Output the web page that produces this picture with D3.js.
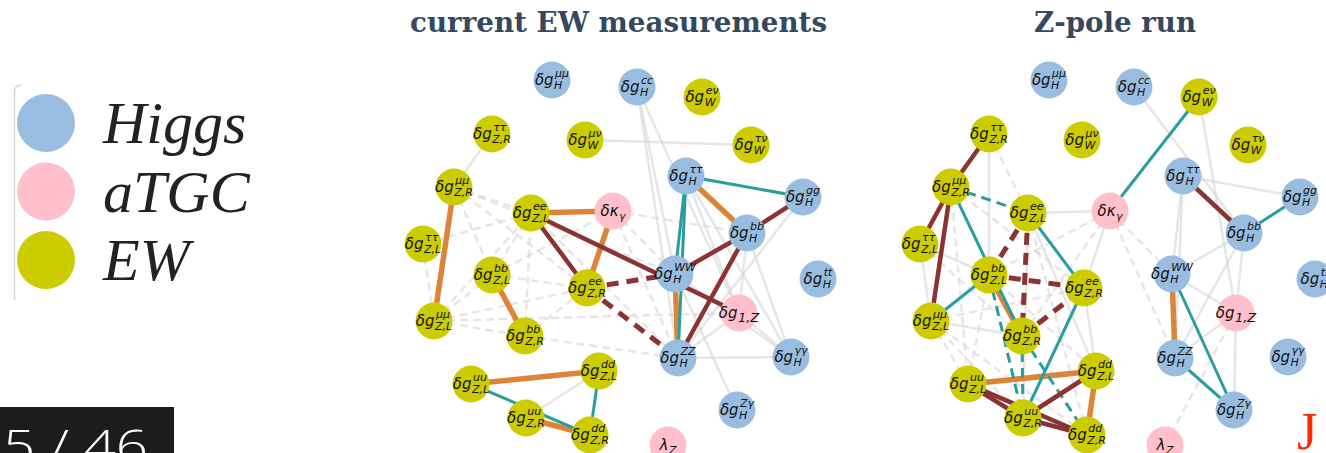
<!DOCTYPE html>
<html>
<head>
<meta charset="utf-8">
<script src="https://cdn.jsdelivr.net/npm/d3@7"></script>
<style>
  body { margin: 0; background: #fff; }
  svg { display: block; }
</style>
</head>
<body>
<svg id="chart"></svg>
<script>
const width = 1326, height = 453;

// ---- data: nodes (layout coords are relative to a panel, in px) ----
const nodeIds   = ["Hmm","Hcc","Wev","ZRtt","Wmv","Wtv","Htt","ZRmm","Hgg","ZLee","kg","Hbb","ZLtt","ZLbb",
                   "ZRee","HWW","Htop","ZLmm","g1z","ZRbb","HZZ","Hyy","ZLdd","ZLuu","ZRuu","ZRdd","HZy","lz"];
const nodeGroup = ["H","H","E","E","E","E","H","E","H","E","A","H","E","E",
                   "E","H","H","E","A","E","H","H","E","E","E","E","H","A"];
const nodeBase  = ["δg","δg","δg","δg","δg","δg","δg","δg","δg","δg","δκ","δg","δg","δg",
                   "δg","δg","δg","δg","δg","δg","δg","δg","δg","δg","δg","δg","δg","λ"];
const nodeSup   = ["μμ","cc","eν","ττ","μν","τν","ττ","μμ","gg","ee","","bb","ττ","bb",
                   "ee","WW","tt","μμ","","bb","ZZ","γγ","dd","uu","uu","dd","Zγ",""];
const nodeSub   = ["H","H","W","Z,R","W","W","H","Z,R","H","Z,L","γ","H","Z,L","Z,L",
                   "Z,R","H","H","Z,L","1,Z","Z,R","H","H","Z,L","Z,L","Z,R","Z,R","H","Z"];
const nodeX     = [152,237,302,92,185,351,286,54,403,131,213,347,23,92,
                   187,275,418,34,339,125,278,391,199,71,126,190,337,268];
const nodeY     = [80,87,97,134,140,145,176,187,197,213,211,233,244,275,
                   288,274,279,321,313,336,358,357,371,384,418,435,410,445];

// ---- data: correlation edges [source, target, kind] ----
const edgesEW = [
  ["Wmv","Wtv","g"],["ZRtt","ZRmm","g"],["Hcc","HWW","g"],["Hcc","HZZ","g"],["Hcc","g1z","g"],
  ["Htt","g1z","g"],["Htt","Hyy","g"],["Hgg","HZZ","g"],["Hbb","Hyy","g"],["Hbb","g1z","g"],
  ["HWW","HZy","g"],["HWW","Hyy","g"],["HZZ","Hyy","g"],["HZZ","g1z","g"],["g1z","Hyy","g"],
  ["ZRuu","ZLdd","g"],
  ["ZLtt","ZLmm","gd"],["ZRmm","ZLee","gd"],["ZRmm","ZRee","gd"],["ZRmm","ZLbb","gd"],["ZRmm","HWW","gd"],
  ["ZLmm","ZLee","gd"],["ZLmm","ZRee","gd"],["ZLmm","g1z","gd"],["ZLmm","ZLbb","gd"],["ZLmm","ZRbb","gd"],
  ["ZLbb","ZRee","gd"],["ZLbb","ZLee","gd"],["ZLbb","kg","gd"],["ZRbb","ZLee","gd"],["ZRbb","ZRee","gd"],
  ["ZRbb","HZZ","gd"],["ZLee","HZZ","gd"],["kg","HWW","gd"],["kg","Hbb","gd"],["kg","HZZ","gd"],["ZLtt","ZLee","gd"],
  ["ZLee","kg","o"],["kg","ZRee","o"],["ZRmm","ZLmm","o"],["ZLbb","ZRbb","o"],["ZLuu","ZLdd","o"],
  ["ZRuu","ZRdd","o"],["HWW","HZZ","o"],["Htt","Hbb","o"],
  ["ZLuu","ZRdd","t"],["ZLdd","ZRdd","t"],["Htt","HWW","t"],["Htt","HZZ","t"],["Htt","Hgg","t"],
  ["Hgg","Hbb","r"],["Hbb","HWW","r"],["Hbb","HZZ","r"],["ZLee","ZRee","r"],["ZLee","g1z","r"],
  ["ZRee","HWW","rd"],["ZRee","HZZ","rd"]
];
const edgesZ = [
  ["ZRtt","ZLbb","g"],["kg","ZLee","g"],["kg","ZRee","g"],["ZLtt","ZLmm","g"],["ZLmm","ZRbb","g"],
  ["ZLtt","ZLbb","g"],["ZRee","ZLdd","g"],["ZLee","ZRuu","g"],["ZLee","ZLdd","g"],
  ["Hcc","Hbb","g"],["Wev","g1z","g"],["Htt","Hgg","g"],["Htt","HWW","g"],["Htt","HZZ","g"],
  ["Hbb","HWW","g"],["Hbb","HZZ","g"],["Hbb","g1z","g"],["HWW","g1z","g"],["HZZ","g1z","g"],["g1z","HZy","g"],
  ["g1z","lz","gd"],["kg","HZZ","gd"],["kg","HWW","gd"],["kg","ZRbb","gd"],["kg","ZLbb","gd"],
  ["ZRtt","ZLee","gd"],["ZRmm","ZRee","gd"],["ZLmm","ZRee","gd"],["ZLmm","ZLuu","gd"],["ZLmm","ZRuu","gd"],
  ["ZLmm","ZRdd","gd"],["ZLtt","ZRbb","gd"],["ZLuu","ZLbb","gd"],["ZRmm","ZLuu","gd"],["ZLee","ZRdd","gd"],
  ["ZLbb","ZLdd","gd"],
  ["ZLbb","ZRbb","o"],["ZLuu","ZLdd","o"],["ZLdd","ZRdd","o"],["HWW","HZZ","o"],
  ["ZRmm","ZRbb","t"],["ZLmm","ZLbb","t"],["ZLee","ZRee","t"],["ZRee","ZRuu","t"],
  ["Wev","kg","t"],["Hbb","Hgg","t"],["HWW","HZy","t"],["HZZ","HZy","t"],
  ["ZRmm","ZLee","td"],["ZLbb","ZRuu","td"],["ZRbb","ZRuu","td"],["ZRbb","ZRdd","td"],
  ["ZRtt","ZRmm","r"],["ZRmm","ZLtt","r"],["ZRmm","ZLmm","r"],["ZLuu","ZRuu","r"],["ZLuu","ZRdd","r"],
  ["ZRuu","ZRdd","r"],["ZRuu","ZLdd","r"],["Htt","Hbb","r"],
  ["ZLee","ZLbb","rd"],["ZLee","ZRbb","rd"],["ZLbb","ZRee","rd"],["ZRbb","ZRee","rd"]
];

const panelTitles = ["current EW measurements", "Z-pole run"];
const legendLabels = ["Higgs", "aTGC", "EW"];
const legendGroups = ["H", "A", "E"];

// ---- styles ----
const groupColor = { H: "#99bde0", A: "#ffc0cb", E: "#cccc00" };
const edgeStyle = {
  g:  { stroke: "#d6d6d6", width: 2.5, dash: null, op: 0.6 },
  gd: { stroke: "#d6d6d6", width: 2.5, dash: "8,5", op: 0.6 },
  o:  { stroke: "#dc8438", width: 5.5, dash: null, op: 1 },
  r:  { stroke: "#8b3333", width: 4.5, dash: null, op: 1 },
  rd: { stroke: "#8b3333", width: 5,   dash: "12,8", op: 1 },
  t:  { stroke: "#2a9d9d", width: 3,   dash: null, op: 1 },
  td: { stroke: "#2a9d9d", width: 3,   dash: "10,6", op: 1 }
};
const radius = 18.5;

const svg = d3.select("#chart").attr("width", width).attr("height", height)
  .attr("viewBox", [0, 0, width, height]);

const nodes = nodeIds.map((id, i) => ({
  id, group: nodeGroup[i], base: nodeBase[i], sup: nodeSup[i], sub: nodeSub[i], x: nodeX[i], y: nodeY[i]
}));
const byId = new Map(nodes.map(d => [d.id, d]));

const scaleY = d3.scaleLinear().domain([0, height]).range([0, height]);
const panels = [
  { title: panelTitles[0], edges: edgesEW, scaleX: d3.scaleLinear().domain([0, 450]).range([400, 850]), titleX: 410, titleW: 417 },
  { title: panelTitles[1], edges: edgesZ,  scaleX: d3.scaleLinear().domain([0, 450]).range([897, 1347]), titleX: 1034, titleW: 162 }
];

// mathtext-like label: base + stacked super/subscript
function drawLabel(g, d) {
  const base = g.append("text").style("font", "italic 15px 'DejaVu Sans'").attr("fill", "#111").text(d.base);
  const wb = base.node().getComputedTextLength();
  const scriptSize = d.id === "g1z" ? 13 : 11;
  let ws = 0, wsub = 0, sup = null, sub = null;
  if (d.sup) {
    sup = g.append("text").style("font", `italic ${scriptSize}px 'DejaVu Sans'`).attr("fill", "#111").text(d.sup);
    ws = sup.node().getComputedTextLength() + 1;
  }
  if (d.sub) {
    sub = g.append("text").style("font", `italic ${scriptSize}px 'DejaVu Sans'`).attr("fill", "#111").text(d.sub);
    wsub = sub.node().getComputedTextLength();
  }
  const total = wb + Math.max(ws, wsub) + 0.5;
  const x0 = -total / 2;
  base.attr("x", x0).attr("y", 5);
  if (sup) sup.attr("x", x0 + wb + 1.5).attr("y", -3.5);
  if (sub) sub.attr("x", x0 + wb + 0.5).attr("y", d.sup ? 9 : 8.5);
}

panels.forEach(p => {
  const g = svg.append("g");

  // title
  g.append("text")
    .attr("x", p.titleX).attr("y", 32)
    .attr("textLength", p.titleW).attr("lengthAdjust", "spacingAndGlyphs")
    .style("font", "bold 27px 'DejaVu Serif'")
    .attr("fill", "#34495e")
    .text(p.title);

  // edges
  g.append("g").selectAll("line")
    .data(p.edges)
    .join("line")
    .attr("x1", e => p.scaleX(byId.get(e[0]).x))
    .attr("y1", e => scaleY(byId.get(e[0]).y))
    .attr("x2", e => p.scaleX(byId.get(e[1]).x))
    .attr("y2", e => scaleY(byId.get(e[1]).y))
    .attr("stroke", e => edgeStyle[e[2]].stroke)
    .attr("stroke-width", e => edgeStyle[e[2]].width)
    .attr("stroke-opacity", e => edgeStyle[e[2]].op)
    .attr("stroke-dasharray", e => edgeStyle[e[2]].dash);

  // nodes
  const node = g.append("g").selectAll("g")
    .data(nodes)
    .join("g")
    .attr("transform", d => `translate(${p.scaleX(d.x)},${scaleY(d.y)})`);
  node.append("circle").attr("r", radius).attr("fill", d => groupColor[d.group]);
  node.each(function(d) { drawLabel(d3.select(this), d); });
});

// legend
const legend = svg.append("g");
legend.append("path")
  .attr("d", "M14.5,300 L14.5,92 Q14.5,85 21.5,85")
  .attr("fill", "none").attr("stroke", "#d8d8d8").attr("stroke-width", 1.5);
const legendY = d3.scalePoint().domain(legendGroups).range([123, 260]);
legendGroups.forEach((grp, i) => {
  legend.append("circle").attr("cx", 46).attr("cy", legendY(grp)).attr("r", 29).attr("fill", groupColor[grp]);
  legend.append("text")
    .attr("x", 103).attr("y", legendY(grp) + 20)
    .style("font", "italic 60px 'Liberation Serif'")
    .attr("fill", "#222")
    .text(legendLabels[i]);
});

// page counter box and corner mark
svg.append("rect").attr("x", 0).attr("y", 407).attr("width", 174).attr("height", 46).attr("fill", "#1c1c1c");
svg.append("text")
  .attr("x", 3).attr("y", 462)
  .attr("textLength", 145).attr("lengthAdjust", "spacingAndGlyphs")
  .style("font", "300 44px 'Open Sans'")
  .attr("fill", "#fff")
  .text("5 / 46");
svg.append("text")
  .attr("x", 1297).attr("y", 449)
  .style("font", "52px 'Liberation Serif'")
  .attr("fill", "#ff2a00")
  .text("J");
</script>
</body>
</html>
